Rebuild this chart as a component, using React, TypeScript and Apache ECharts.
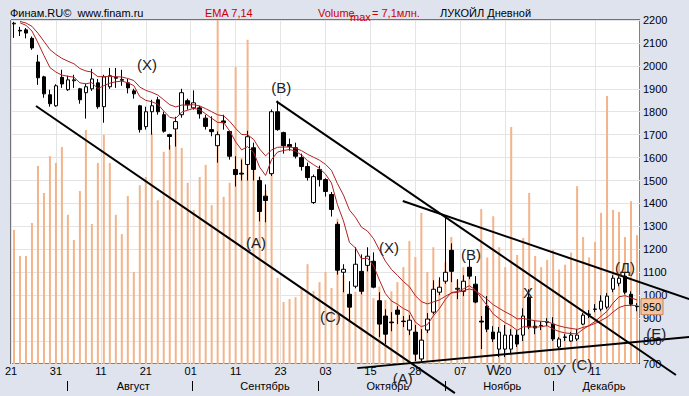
import React, { useEffect, useRef } from "react";
import * as echarts from "echarts";

// ---- data (bar index 0..104, daily candles) ----
const opens = [
  2183, 2155, 2157, 2120, 2017, 1952, 1874, 1826, 1950, 1896, 1935, 1900, 1883, 1900, 1926, 1822, 1909, 1946, 1937, 1926,
  1891, 1826, 1735, 1800, 1852, 1787, 1700, 1725, 1787, 1848, 1817, 1817, 1772, 1722, 1652, 1760, 1714, 1548, 1532, 1570,
  1643, 1500, 1432, 1530, 1800, 1709, 1657, 1643, 1600, 1561, 1404, 1548, 1504, 1439, 1309, 1100, 1004, 1039, 1104, 1130,
  1148, 976, 909, 883, 935, 887, 848, 839, 722, 848, 926, 1013, 1061, 1196, 1026, 1017, 1122, 1048, 887, 952,
  839, 765, 765, 765, 826, 826, 991, 865, 868, 884, 874, 774, 818, 800, 809, 874, 918, 938, 939, 948,
  1026, 1052, 1083, 1004, 952,
];
const closes = [
  2186, 2152, 2143, 2078, 1948, 1878, 1835, 1913, 1921, 1939, 1939, 1852, 1909, 1943, 1822, 1952, 1957, 1950, 1941, 1904,
  1878, 1722, 1800, 1826, 1800, 1715, 1692, 1757, 1883, 1830, 1839, 1791, 1736, 1713, 1700, 1752, 1606, 1526, 1528, 1691,
  1548, 1365, 1413, 1800, 1722, 1652, 1648, 1606, 1561, 1513, 1517, 1504, 1452, 1374, 1109, 1113, 948, 1135, 1017, 1170,
  1035, 874, 830, 880, 917, 885, 891, 743, 804, 896, 1026, 1035, 1100, 1104, 1030, 1061, 1083, 970, 883, 852,
  809, 839, 826, 826, 787, 909, 861, 857, 867, 882, 809, 809, 816, 826, 826, 913, 916, 940, 974, 996,
  1074, 1074, 1013, 961, 950,
];
const lows = [
  2122, 2130, 2120, 2070, 1917, 1861, 1822, 1822, 1904, 1891, 1904, 1835, 1770, 1891, 1813, 1752, 1900, 1904, 1913, 1880,
  1857, 1709, 1722, 1700, 1787, 1709, 1635, 1648, 1774, 1809, 1809, 1770, 1722, 1693, 1578, 1722, 1591, 1474, 1500, 1500,
  1500, 1322, 1318, 1520, 1717, 1617, 1630, 1596, 1543, 1500, 1398, 1474, 1430, 1343, 1090, 1013, 883, 1030, 1004, 1104,
  1030, 817, 787, 843, 874, 861, 826, 713, 713, 835, 917, 1000, 1050, 1057, 983, 996, 1070, 965, 765, 839,
  796, 730, 730, 748, 774, 800, 852, 830, 848, 865, 800, 765, 800, 796, 800, 870, 900, 926, 930, 939,
  1013, 1039, 1004, 952, 930,
];
const highs = [
  2192, 2170, 2165, 2128, 2048, 1957, 1896, 1920, 1983, 1957, 1961, 1904, 1922, 1987, 1943, 1961, 1991, 1991, 1983, 1943,
  1900, 1830, 1822, 1852, 1865, 1800, 1704, 1778, 1900, 1857, 1893, 1826, 1787, 1780, 1714, 1787, 1717, 1606, 1591, 1717,
  1665, 1517, 1483, 1810, 1848, 1713, 1683, 1665, 1617, 1578, 1526, 1565, 1510, 1450, 1320, 1135, 1061, 1209, 1178, 1209,
  1187, 1013, 939, 926, 952, 909, 913, 870, 852, 922, 1065, 1078, 1345, 1226, 1070, 1087, 1157, 1083, 909, 996,
  865, 861, 870, 852, 848, 943, 1026, 887, 887, 900, 904, 817, 830, 839, 852, 922, 935, 961, 1000, 1009,
  1087, 1083, 1096, 1017, 965,
];
// volume, millions of shares
const volumes = [
  2.77, 2.23, 2.23, 2.91, 4.09, 3.53, 4.29, 4.15, 4.48, 3.08, 2.56, 3.57, 4.83, 2.89, 4.15, 4.73, 4.15, 3.08, 2.68, 3.47,
  1.9, 3.69, 3.86, 4.77, 3.38, 4.38, 4.52, 4.81, 4.46, 3.74, 3.18, 3.86, 4.11, 3.28, 7.1, 3.45, 3.74, 6.13, 4.25, 6.69,
  4.42, 3.86, 3.59, 4.21, 1.78, 1.28, 1.34, 1.38, 1.57, 2.06, 1.51, 1.69, 1.9, 1.57, 3.0, 1.84, 1.18, 1.49, 1.73, 2.02,
  1.36, 1.6, 1.32, 1.5, 1.69, 2.0, 2.54, 2.21, 3.12, 1.9, 2.41, 1.73, 2.1, 2.62, 1.73, 2.0, 1.8, 1.53, 3.2, 2.2,
  3.05, 2.41, 2.0, 4.89, 2.25, 2.6, 3.53, 2.23, 2.0, 2.15, 2.35, 1.95, 2.05, 2.3, 3.67, 2.62, 2.2, 2.52, 3.12, 5.53,
  3.18, 3.14, 2.62, 3.36, 2.66,
];
const volumeMax = 7.1;
const barIndex = opens.map((_, i) => String(i));

const tickLabels = ["21", "31", "11", "21", "01", "11", "23", "03", "15", "28", "07", "20", "01", "11"];
const months = ["Август", "Сентябрь", "Октябрь", "Ноябрь", "Декабрь"];
const monthCenters = [19.9, 41.9, 62.4, 81.5, 98.5];
const monthBreaks = [8.9, 29.7, 50.8, 72.0, 90.0];

const priceMin = 700;
const priceMax = 2200;
const priceStep = 100;
const lastPrice = 950;

const emaPeriods = [7, 14];
const emaSeed = 2200;

// trend lines: [barIndex, price] endpoints
const trendLines: number[][][] = [
  [[3.67, 1825], [73.6, 573]],
  [[43.8, 1845], [110.5, 652]],
  [[64.9, 1411], [112.7, 983]],
  [[57.3, 682], [112.7, 818]],
];
// wave labels: [text, barIndex, price]
const waveLabels: [string, number, number][] = [
  ["(X)", 22.2, 2004],
  ["(B)", 44.6, 1904],
  ["(A)", 40.4, 1230],
  ["(C)", 52.8, 909],
  ["(X)", 62.6, 1209],
  ["(B)", 76.3, 1178],
  ["(A)", 64.9, 635],
  ["X", 85.8, 1013],
  ["(C)", 94.8, 696],
  ["(Д)", 102.0, 1122],
  ["(E)", 107.2, 835],
  ["W", 80.0, 674],
  ["У", 91.3, 674],
];

function ema(values: number[], period: number, seed: number): (number | null)[] {
  const k = 2 / (period + 1);
  let prev = seed;
  return values.map((v, i) => {
    if (i === 0) return null;
    prev = prev + k * (v - prev);
    return Math.round(prev * 10) / 10;
  });
}

const FONT = '"Liberation Sans", Arial, sans-serif';

export default function App() {
  const ref = useRef<HTMLDivElement>(null);
  useEffect(() => {
    if (!ref.current) return;
    const chart = echarts.init(ref.current, undefined, { renderer: "svg" });
    const candles = opens.map((o, i) => [o, closes[i], lows[i], highs[i]]);
    chart.setOption({
      animation: false,
      backgroundColor: "#dfe3ee",
      textStyle: { fontFamily: FONT },
      grid: {
        left: 11,
        right: 49,
        top: 20,
        bottom: 32,
        show: true,
        backgroundColor: "#ffffff",
        borderColor: "#000000",
        borderWidth: 1,
      },
      xAxis: [
        { type: "category", data: barIndex, show: false, boundaryGap: true },
        { type: "value", min: -0.5, max: opens.length - 0.5, show: false },
        {
          type: "category",
          data: [...tickLabels, ""],
          boundaryGap: false,
          position: "bottom",
          axisLine: { show: false },
          axisTick: { show: false },
          axisLabel: { interval: 0, color: "#000", fontSize: 11, margin: 1, fontFamily: FONT },
          splitLine: { show: true, interval: 0, lineStyle: { color: "#e4e4e4", width: 1 } },
        },
      ],
      yAxis: [
        {
          type: "value",
          position: "right",
          min: priceMin,
          max: priceMax,
          interval: priceStep,
          axisLine: { show: false },
          axisTick: { show: false },
          axisLabel: {
            color: "#000",
            fontSize: 11,
            margin: 3,
            fontFamily: FONT,
            formatter: (v: number) => String(v),
          },
          splitLine: { show: true, lineStyle: { color: "#e4e4e4", width: 1 } },
        },
        { type: "value", min: 0, max: volumeMax, show: false, splitLine: { show: false } },
      ],
      series: [
        {
          type: "bar",
          xAxisIndex: 0,
          yAxisIndex: 1,
          data: volumes,
          barWidth: 2,
          silent: true,
          itemStyle: { color: "#f3b48a" },
        },
        {
          type: "candlestick",
          xAxisIndex: 0,
          yAxisIndex: 0,
          data: candles,
          barWidth: 4,
          silent: true,
          itemStyle: {
            color: "#ffffff",
            color0: "#000000",
            borderColor: "#000000",
            borderColor0: "#000000",
            borderWidth: 1,
          },
        },
        ...emaPeriods.map((p) => ({
          type: "line",
          xAxisIndex: 0,
          yAxisIndex: 0,
          data: ema(closes, p, emaSeed),
          showSymbol: false,
          silent: true,
          lineStyle: { color: "#b02222", width: 1 },
        })),
      ],
    });

    const toPx = (i: number, p: number) =>
      chart.convertToPixel({ xAxisIndex: 1, yAxisIndex: 0 }, [i, p]) as number[];

    const g: any[] = [];
    const txt = (text: string, x: number, y: number, fill: string, size: number, align = "left") => ({
      type: "text",
      x,
      y,
      z: 100,
      silent: true,
      style: { text, fill, fontSize: size, fontFamily: FONT, align, verticalAlign: "middle" },
    });
    // header
    g.push(txt("Финам.RU©  www.finam.ru", 10, 13, "#000", 11));
    g.push(txt("EMA 7,14", 205, 13, "#cc0000", 11));
    g.push(txt("Volume", 318, 13, "#cc0000", 11));
    g.push(txt("max", 350, 17, "#cc0000", 11));
    g.push(txt("= 7,1млн.", 372, 13, "#cc0000", 11));
    g.push(txt("ЛУКОЙЛ Дневной", 440, 13, "#000", 11));
    // months
    months.forEach((m, k) => {
      const [x] = toPx(monthCenters[k], priceMin);
      g.push(txt(m, x, 386, "#000", 11, "center"));
    });
    monthBreaks.forEach((b) => {
      const [x] = toPx(b, priceMin);
      g.push({
        type: "line",
        z: 100,
        silent: true,
        shape: { x1: Math.round(x) + 0.5, y1: 381, x2: Math.round(x) + 0.5, y2: 391 },
        style: { stroke: "#000", lineWidth: 1 },
      });
    });
    // trend lines
    trendLines.forEach(([a, b]) => {
      const p1 = toPx(a[0], a[1]);
      const p2 = toPx(b[0], b[1]);
      g.push({
        type: "line",
        z: 100,
        silent: true,
        shape: { x1: p1[0], y1: p1[1], x2: p2[0], y2: p2[1] },
        style: { stroke: "#000", lineWidth: 2 },
      });
    });
    // wave labels
    waveLabels.forEach(([t, i, p]) => {
      const [x, y] = toPx(i, p);
      g.push(txt(t, x, y, "#222", 15, "center"));
    });
    // last price marker
    const [, yLast] = toPx(0, lastPrice);
    g.push({
      type: "rect",
      z: 101,
      silent: true,
      shape: { x: 641, y: yLast - 8, width: 22, height: 16 },
      style: { fill: "#f6c39d", stroke: "#c8865a", lineWidth: 1 },
    });
    g.push({ ...txt(String(lastPrice), 652, yLast, "#000", 11, "center"), z: 102 });

    chart.setOption({ graphic: g });
    return () => chart.dispose();
  }, []);
  return <div ref={ref} style={{ position: "fixed", left: 0, top: 0, width: 689, height: 396 }} />;
}
